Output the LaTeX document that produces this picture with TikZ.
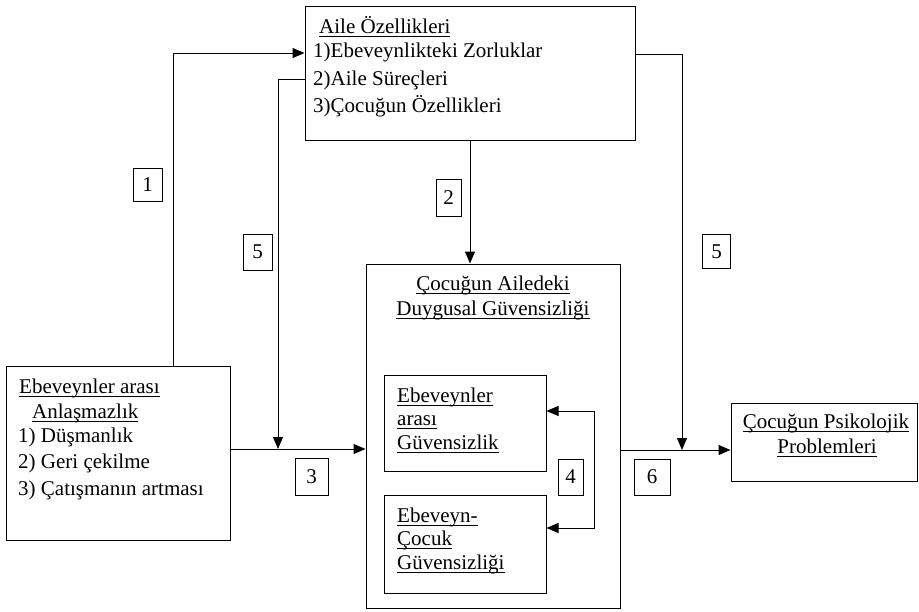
\documentclass[tikz,border=0pt]{standalone}
\usepackage{fontspec}
\setmainfont{Liberation Serif}
\usetikzlibrary{arrows.meta}
\newcommand{\myul}[1]{\setbox0\hbox{#1}\rlap{\rule[-3.5pt]{\wd0}{0.9pt}}\box0}
\begin{document}
\begin{tikzpicture}[x=1pt,y=-1pt,
  every node/.style={font=\fontsize{21}{26}\selectfont},
  box/.style={draw, line width=1pt, inner sep=0pt},
  lbl/.style={draw, line width=1pt, inner sep=0pt},
  txt/.style={anchor=base west, inner sep=0pt},
  ctxt/.style={anchor=base, inner sep=0pt},
  arr/.style={line width=1pt, -{Triangle[length=12pt,width=10pt]}},
  biarr/.style={line width=1pt, {Triangle[length=12pt,width=10pt]}-{Triangle[length=12pt,width=10pt]}}]
\useasboundingbox (0,0) rectangle (919,611);
% boxes
\node[box, minimum width=330pt, minimum height=134pt] (fam) at (470,73) {};
\node[box, minimum width=224pt, minimum height=174pt] (conf) at (118,453) {};
\node[box, minimum width=254pt, minimum height=344pt] (cen) at (493,436) {};
\node[box, minimum width=162pt, minimum height=96pt] (inA) at (465,423) {};
\node[box, minimum width=162pt, minimum height=98pt] (inB) at (465,544) {};
\node[box, minimum width=186pt, minimum height=78pt] (psy) at (824,442) {};
% texts: top box
\node[txt] (t1) at (319,33) {\myul{Aile Özellikleri}};
\node[txt] (t2) at (313,57) {1)Ebeveynlikteki Zorluklar};
\node[txt] (t3) at (313,85) {2)Aile Süreçleri};
\node[txt] (t4) at (313,112) {3)Çocuğun Özellikleri};
% left box
\node[txt] (l1) at (19,393) {\myul{Ebeveynler arası}};
\node[txt] (l2) at (32,418) {\myul{Anlaşmazlık}};
\node[txt] (l3) at (18,442) {1)\ Düşmanlık};
\node[txt] (l4) at (18,468) {2)\ Geri çekilme};
\node[txt] (l5) at (18,495) {3)\ Çatışmanın artması};
% center box
\node[ctxt] (c1) at (493,290) {\myul{Çocuğun Ailedeki}};
\node[ctxt] (c2) at (493,315) {\myul{Duygusal Güvensizliği}};
\node[txt] (a1) at (397,402) {\myul{Ebeveynler}};
\node[txt] (a2) at (397,425) {\myul{arası}};
\node[txt] (a3) at (397,449) {\myul{Güvensizlik}};
\node[txt] (b1) at (397,522) {\myul{Ebeveyn-}};
\node[txt] (b2) at (397,545) {\myul{Çocuk}};
\node[txt] (b3) at (397,569) {\myul{Güvensizliği}};
% right box
\node[ctxt] (p1) at (826,428) {\myul{Çocuğun Psikolojik}};
\node[ctxt] (p2) at (827,453) {\myul{Problemleri}};
% number labels
\node[lbl, minimum width=29pt, minimum height=33pt] (n1) at (147.5,184.5) {1};
\node[lbl, minimum width=25pt, minimum height=37pt] (n2) at (448.5,197.5) {2};
\node[lbl, minimum width=29pt, minimum height=36pt] (n5a) at (257.5,252) {5};
\node[lbl, minimum width=28pt, minimum height=34pt] (n5b) at (716.5,251.5) {5};
\node[lbl, minimum width=33pt, minimum height=37pt] (n3) at (311.5,476.5) {3};
\node[lbl, minimum width=25pt, minimum height=36pt] (n4) at (570.5,477) {4};
\node[lbl, minimum width=36pt, minimum height=36pt] (n6) at (652,477) {6};
% coordinates
\coordinate (k1) at (173,53);
\coordinate (k5) at (278,79);
\coordinate (j3) at (278,449);
\coordinate (k5r) at (682,54);
\coordinate (j6) at (682,450);
\coordinate (b4t) at (594,411);
\coordinate (b4b) at (594,528);
% connectors
\draw[arr] (conf.north -| k1) |- (fam.west |- k1);
\draw[arr] (fam.west |- k5) -| (j3);
\draw[arr] (conf.east |- j3) -- (cen.west |- j3);
\draw[arr] (fam.south) -- (fam.south |- cen.north);
\draw[arr] (fam.east |- k5r) -| (j6);
\draw[arr] (cen.east |- j6) -- (psy.west |- j6);
\draw[biarr] (inA.east |- b4t) -- (b4t) -- (b4b) -- (inB.east |- b4b);
\end{tikzpicture}
\end{document}
